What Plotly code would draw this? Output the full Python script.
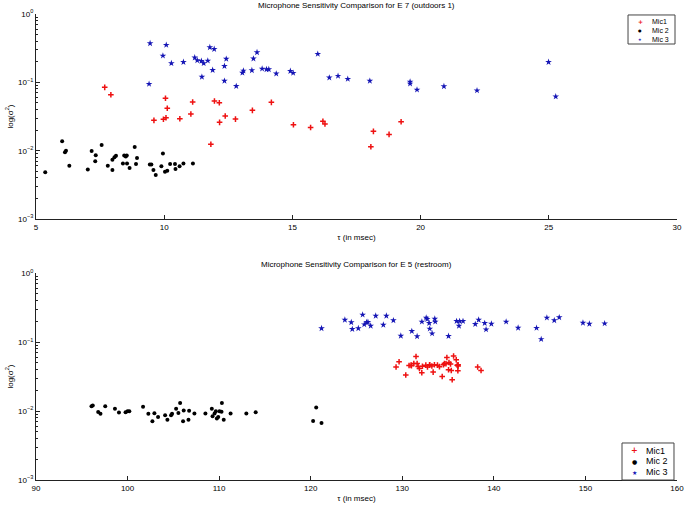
import plotly.graph_objects as go

# E 7 (outdoors 1)
e7_mic1_tau = [7.68, 7.92, 9.60, 10.05, 10.12, 9.97, 10.07, 10.61, 11.11, 11.04, 11.82, 11.96,
               12.15, 12.38, 12.16, 12.78, 13.44, 14.18, 15.04, 15.71, 16.19, 16.27, 18.06,
               18.16, 18.77, 19.24]
e7_mic1_var = [0.0845, 0.066, 0.0278, 0.0584, 0.0417, 0.0288, 0.0304, 0.0294, 0.0515, 0.0344,
               0.0124, 0.0533, 0.0503, 0.0322, 0.026, 0.029, 0.0389, 0.051, 0.024, 0.0219,
               0.0269, 0.0246, 0.0114, 0.0192, 0.0173, 0.0265]

e7_mic2_tau = [5.36, 6.02, 6.17, 6.13, 6.30, 7.02, 7.17, 7.33, 7.31, 7.56, 7.80, 7.98, 7.98,
               8.06, 8.12, 8.39, 8.44, 8.50, 8.54, 8.55, 8.65, 8.85, 8.94, 8.90, 9.44, 9.50,
               9.58, 9.67, 9.89, 9.95, 10.03, 10.12, 10.23, 10.42, 10.44, 10.60, 10.75, 11.12]
e7_mic2_var = [0.00482, 0.0137, 0.0100, 0.0095, 0.006, 0.0053, 0.0099, 0.0086, 0.007, 0.0121,
               0.006, 0.0074, 0.0052, 0.0080, 0.0084, 0.0065, 0.0085, 0.0082, 0.0085, 0.0065,
               0.0056, 0.0113, 0.0078, 0.0064, 0.0063, 0.0063, 0.0052, 0.0044, 0.0059, 0.0091,
               0.0049, 0.0051, 0.0064, 0.0064, 0.0054, 0.0059, 0.0065, 0.0065]

e7_mic3_tau = [9.45, 9.41, 10.08, 9.95, 10.28, 10.75, 11.19, 11.29, 11.45, 11.54, 11.47, 11.70,
               11.78, 11.95, 11.89, 12.42, 12.35, 12.35, 12.81, 13.05, 13.09, 13.48, 13.62,
               13.42, 13.82, 13.99, 14.08, 14.37, 14.92, 15.03, 15.99, 16.44, 16.78, 17.16,
               18.02, 19.59, 19.59, 19.86, 20.91, 22.2, 24.99, 25.27]
e7_mic3_var = [0.372, 0.0946, 0.352, 0.245, 0.19, 0.198, 0.23, 0.21, 0.205, 0.19, 0.12, 0.207,
               0.325, 0.307, 0.151, 0.22, 0.173, 0.105, 0.088, 0.138, 0.148, 0.222, 0.275,
               0.150, 0.158, 0.155, 0.155, 0.134, 0.146, 0.137, 0.26, 0.117, 0.124, 0.112,
               0.105, 0.102, 0.0955, 0.078, 0.0875, 0.076, 0.198, 0.062]

# E 5 (restroom)
e5_mic1_tau = [129.65, 129.32, 131.5, 130.38, 130.74, 130.96, 131.26, 131.62, 131.73, 131.87,
               132.13, 132.57, 132.75, 132.97, 133.23, 133.37, 133.51, 133.84, 134.06, 134.36,
               134.5, 134.77, 134.87, 135.05, 135.27, 135.45, 135.6, 135.35, 135.89, 136.0,
               136.1, 136.07, 138.23, 138.6, 131.0, 132.2, 133.0, 134.6, 135.1, 136.1]
e5_mic1_var = [0.0518, 0.0434, 0.0619, 0.0333, 0.0458, 0.0463, 0.049, 0.049, 0.0443, 0.0414,
               0.0359, 0.0463, 0.0434, 0.0463, 0.045, 0.0367, 0.047, 0.0463, 0.044, 0.0317,
               0.047, 0.0484, 0.0598, 0.0397, 0.048, 0.0284, 0.0627, 0.0388, 0.0554, 0.0463,
               0.045, 0.0384, 0.0434, 0.0388, 0.0455, 0.0445, 0.047, 0.049, 0.0505, 0.047]

e5_mic2_tau = [96.06, 96.2, 96.79, 97.04, 97.56, 98.62, 99.06, 99.78, 100.0, 100.19, 101.69,
               102.27, 102.71, 102.93, 103.33, 104.1, 104.35, 104.75, 104.86, 105.3, 105.55,
               105.74, 106.13, 106.06, 106.65, 106.72, 107.3, 108.5, 109.2, 109.28, 109.5,
               109.64, 109.75, 109.9, 110.04, 110.3, 110.26, 110.5, 111.25, 112.97, 113.99,
               120.6, 120.26, 121.18]
e5_mic2_var = [0.0117, 0.012, 0.0097, 0.0091, 0.0117, 0.0108, 0.0095, 0.0096, 0.0099, 0.0099,
               0.0115, 0.0091, 0.0071, 0.0093, 0.0082, 0.0087, 0.0075, 0.0087, 0.0091, 0.0108,
               0.0094, 0.0131, 0.0102, 0.0071, 0.0075, 0.0101, 0.0092, 0.0092, 0.0108, 0.0084,
               0.0092, 0.0099, 0.0078, 0.0082, 0.0099, 0.0131, 0.0098, 0.0075, 0.0092, 0.0092,
               0.0096, 0.0113, 0.0072, 0.0067]

e5_mic3_tau = [121.18, 123.73, 124.43, 124.54, 125.2, 125.67, 125.85, 126.1, 126.25, 126.55,
               127.1, 127.93, 128.26, 129.03, 129.84, 131.04, 131.62, 132.14, 132.61, 132.72,
               132.94, 133.0, 133.26, 133.55, 133.6, 135.05, 135.93, 136.26, 136.19, 136.63,
               137.97, 138.34, 139.0, 139.15, 139.73, 141.34, 142.65, 144.66, 145.17, 145.79,
               146.6, 147.14, 149.73, 150.43, 152.1]
e5_mic3_var = [0.158, 0.21, 0.193, 0.154, 0.158, 0.249, 0.18, 0.193, 0.195, 0.172, 0.24, 0.178,
               0.24, 0.206, 0.123, 0.144, 0.121, 0.197, 0.225, 0.215, 0.188, 0.156, 0.133,
               0.217, 0.197, 0.122, 0.201, 0.201, 0.172, 0.201, 0.182, 0.21, 0.188, 0.152,
               0.184, 0.197, 0.161, 0.16, 0.110, 0.225, 0.206, 0.228, 0.19, 0.184, 0.186]

names = ["Mic1", "Mic 2", "Mic 3"]
ylabels = ["10<sup>\u22123</sup>", "10<sup>\u22122</sup>", "10<sup>\u22121</sup>", "10<sup>0</sup>"]

RED = "#ee1111"
BLACK = "#000000"
BLUE = "#1515b5"
colors = [RED, BLACK, BLUE]
glyphs = ["+", "\u25cf", "\u2605"]
marks = [dict(symbol="cross-thin-open", size=4, line=dict(color=RED, width=1.5), color=RED),
         dict(symbol="circle", size=4, color=BLACK, line=dict(width=0)),
         dict(symbol="star", size=5, color=BLUE, line=dict(width=0))]

fig = go.Figure()

top = [(e7_mic1_tau, e7_mic1_var), (e7_mic2_tau, e7_mic2_var), (e7_mic3_tau, e7_mic3_var)]
bot = [(e5_mic1_tau, e5_mic1_var), (e5_mic2_tau, e5_mic2_var), (e5_mic3_tau, e5_mic3_var)]

for i, (t, v) in enumerate(top):
    fig.add_trace(go.Scatter(x=t, y=v, mode="markers", name=names[i], marker=marks[i],
                             xaxis="x", yaxis="y", showlegend=False))
for i, (t, v) in enumerate(bot):
    fig.add_trace(go.Scatter(x=t, y=v, mode="markers", name=names[i], marker=marks[i],
                             xaxis="x2", yaxis="y2", showlegend=False))

fnt = dict(family="Liberation Sans, Arial, sans-serif", size=8, color="black")
xax = dict(showline=True, linecolor="#222", linewidth=1, ticks="inside", ticklen=4,
           tickcolor="#222", showgrid=False, zeroline=False, tickfont=fnt,
           ticklabeloverflow="allow",
           title=dict(text="\u03c4 (in msec)", font=fnt, standoff=3))
yax = dict(type="log", range=[-3, 0], showline=True, linecolor="#222", linewidth=1,
           ticks="inside", ticklen=4, tickcolor="#222", showgrid=False, zeroline=False,
           tickvals=[0.001, 0.01, 0.1, 1], ticktext=ylabels, tickfont=fnt,
           minor=dict(ticks="inside", ticklen=2, tickcolor="#222", dtick="D1", showgrid=False),
           title=dict(text="log(\u03c3<sup>2</sup>)", font=fnt, standoff=3))

# hand drawn legend boxes (paper coords): top-right of E7, bottom-right of E5
leg_boxes = [dict(x0=0.9236, x1=0.9969, y0=0.9356, y1=0.9979, rows=[0.9845, 0.9639, 0.9446],
                  mx=0.9430, tx=0.9579, size=7),
             dict(x0=0.9142, x1=0.9953, y0=0.0, y1=0.0794, rows=[0.0629, 0.0401, 0.0165],
                  mx=0.9334, tx=0.9490, size=9)]

shapes = []
annos = [
    dict(text="Microphone Sensitivity Comparison for E 7 (outdoors 1)", x=0.5, y=1.019,
         xref="paper", yref="paper", showarrow=False, font=fnt, yanchor="middle"),
    dict(text="Microphone Sensitivity Comparison for E 5 (restroom)", x=0.5, y=0.4635,
         xref="paper", yref="paper", showarrow=False, font=fnt, yanchor="middle"),
]
for lb in leg_boxes:
    shapes.append(dict(type="rect", xref="paper", yref="paper", x0=lb["x0"], x1=lb["x1"],
                       y0=lb["y0"], y1=lb["y1"], line=dict(color="#444", width=1),
                       fillcolor="white", layer="above"))
    for i in range(3):
        gsize = lb["size"] - 1 if i != 0 else lb["size"] + 1
        annos.append(dict(text="<b>" + glyphs[i] + "</b>" if i == 0 else glyphs[i],
                          x=lb["mx"], y=lb["rows"][i], xref="paper", yref="paper",
                          showarrow=False, xanchor="center", yanchor="middle",
                          font=dict(family="DejaVu Sans", size=gsize - 2, color=colors[i])))
        annos.append(dict(text=names[i], x=lb["tx"], y=lb["rows"][i], xref="paper", yref="paper",
                          showarrow=False, xanchor="left", yanchor="middle",
                          font=dict(fnt, size=lb["size"])))

fig.update_layout(
    width=685, height=505,
    margin=dict(l=36, r=8, t=14, b=25, autoexpand=False),
    paper_bgcolor="white", plot_bgcolor="white",
    font=fnt,
    showlegend=False,
    xaxis=dict(xax, domain=[0, 1], range=[5, 30], dtick=5, anchor="y"),
    yaxis=dict(yax, domain=[0.56, 1], anchor="x"),
    xaxis2=dict(xax, domain=[0, 1], range=[90, 160], dtick=10, anchor="y2"),
    yaxis2=dict(yax, domain=[0, 0.444], anchor="x2"),
    shapes=shapes,
    annotations=annos,
)

fig.write_html("out.html", config={"displayModeBar": False},
               post_script="document.body.style.margin='0';")
